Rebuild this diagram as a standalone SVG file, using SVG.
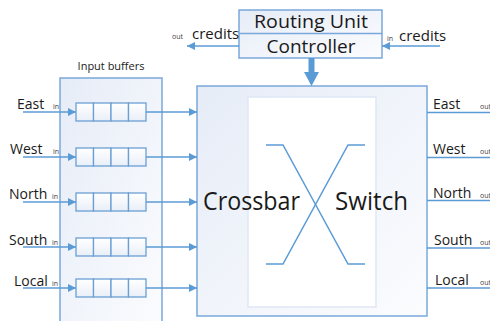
<svg xmlns="http://www.w3.org/2000/svg" width="490" height="321" viewBox="0 0 490 321">
  <defs>
    <linearGradient id="panelFill" x1="0" y1="0" x2="1" y2="1">
      <stop offset="0" stop-color="#e6ecf7"/>
      <stop offset="1" stop-color="#fbfcfe"/>
    </linearGradient>
    <linearGradient id="cellFill" x1="0" y1="0" x2="0" y2="1">
      <stop offset="0" stop-color="#ffffff"/>
      <stop offset="1" stop-color="#e9eff8"/>
    </linearGradient>
    <marker id="tip" viewBox="0 0 8 8" refX="8" refY="4" markerWidth="8" markerHeight="8" markerUnits="userSpaceOnUse" orient="auto">
      <path d="M0,0 L8,4 L0,8 Z" fill="#5b9bd5"/>
    </marker>
  </defs>
  <style>
    text { font-family: "Open Sans", "Liberation Sans", sans-serif; fill: #1a1a1a; }
    .panel { fill: url(#panelFill); stroke: #7aa8da; stroke-width: 1.5; }
    .cell { fill: url(#cellFill); stroke: #6b9fd3; stroke-width: 1.3; }
    .wire { stroke: #5b9bd5; stroke-width: 1.5; fill: none; }
    .arrow { stroke: #5b9bd5; stroke-width: 1.5; fill: none; marker-end: url(#tip); }
    .port { font-size: 14px; }
    .sub { font-size: 7px; fill: #444; }
    .credits { font-size: 15px; }
  </style>

  <!-- Input buffers panel -->
  <g id="input-buffers">
    <rect class="panel" x="60" y="78" width="102" height="250"/>
    <text x="111" y="70" font-size="11" text-anchor="middle">Input buffers</text>
  </g>

  <!-- Crossbar switch -->
  <g id="crossbar">
    <rect class="panel" x="197" y="86" width="230" height="230"/>
    <rect x="248" y="97" width="128" height="210" fill="#ffffff" stroke="#dfe7f3" stroke-width="1.5"/>
    <path class="wire" d="M266,145 H283 L348,264 H365" stroke-width="2"/>
    <path class="wire" d="M365,145 H348 L283,264 H266" stroke-width="2"/>
    <text x="203" y="210" font-size="25" textLength="97" lengthAdjust="spacingAndGlyphs">Crossbar</text>
    <text x="335" y="210" font-size="25" textLength="73" lengthAdjust="spacingAndGlyphs">Switch</text>
  </g>

  <!-- Routing unit controller -->
  <g id="controller">
    <rect x="239" y="10" width="143" height="48" fill="url(#panelFill)" stroke="#7aa8da" stroke-width="1.5"/>
    <line x1="239" y1="33.5" x2="382" y2="33.5" stroke="#7aa8da" stroke-width="1.3"/>
    <text x="311" y="28" font-size="18" text-anchor="middle" textLength="114" lengthAdjust="spacingAndGlyphs">Routing Unit</text>
    <text x="311" y="53" font-size="18" text-anchor="middle" textLength="89" lengthAdjust="spacingAndGlyphs">Controller</text>
  </g>

  <!-- Buffer queues -->
  <g id="queue-east">
    <rect class="cell" x="76" y="103" width="17.5" height="18"/>
    <rect class="cell" x="93.5" y="103" width="17.5" height="18"/>
    <rect class="cell" x="111" y="103" width="17.5" height="18"/>
    <rect class="cell" x="128.5" y="103" width="17.5" height="18"/>
  </g>
  <g id="queue-west">
    <rect class="cell" x="76" y="148" width="17.5" height="18"/>
    <rect class="cell" x="93.5" y="148" width="17.5" height="18"/>
    <rect class="cell" x="111" y="148" width="17.5" height="18"/>
    <rect class="cell" x="128.5" y="148" width="17.5" height="18"/>
  </g>
  <g id="queue-north">
    <rect class="cell" x="76" y="193" width="17.5" height="18"/>
    <rect class="cell" x="93.5" y="193" width="17.5" height="18"/>
    <rect class="cell" x="111" y="193" width="17.5" height="18"/>
    <rect class="cell" x="128.5" y="193" width="17.5" height="18"/>
  </g>
  <g id="queue-south">
    <rect class="cell" x="76" y="238" width="17.5" height="18"/>
    <rect class="cell" x="93.5" y="238" width="17.5" height="18"/>
    <rect class="cell" x="111" y="238" width="17.5" height="18"/>
    <rect class="cell" x="128.5" y="238" width="17.5" height="18"/>
  </g>
  <g id="queue-local">
    <rect class="cell" x="76" y="279" width="17.5" height="18"/>
    <rect class="cell" x="93.5" y="279" width="17.5" height="18"/>
    <rect class="cell" x="111" y="279" width="17.5" height="18"/>
    <rect class="cell" x="128.5" y="279" width="17.5" height="18"/>
  </g>

  <!-- Port labels -->
  <g id="labels-in">
    <text class="port" x="17" y="109">East</text><text class="sub" x="53" y="109">in</text>
    <text class="port" x="10" y="154">West</text><text class="sub" x="53" y="154">in</text>
    <text class="port" x="9" y="199">North</text><text class="sub" x="52" y="199">in</text>
    <text class="port" x="9" y="245">South</text><text class="sub" x="52" y="245">in</text>
    <text class="port" x="14" y="286">Local</text><text class="sub" x="52" y="286">in</text>
  </g>
  <g id="labels-out">
    <text class="port" x="433" y="109">East</text><text class="sub" x="480" y="109">out</text>
    <text class="port" x="433" y="154">West</text><text class="sub" x="480" y="154">out</text>
    <text class="port" x="433" y="198">North</text><text class="sub" x="480" y="198">out</text>
    <text class="port" x="434" y="245">South</text><text class="sub" x="480" y="245">out</text>
    <text class="port" x="435" y="285">Local</text><text class="sub" x="480" y="285">out</text>
  </g>
  <g id="labels-credits">
    <text class="sub" x="172" y="39" font-size="8">out</text>
    <text class="credits" x="192" y="39">credits</text>
    <text class="sub" x="387" y="41" font-size="8">in</text>
    <text class="credits" x="399" y="41">credits</text>
  </g>

  <!-- Connectors -->
  <g id="connectors">
    <!-- inputs into queues -->
    <path class="arrow" d="M23,112 H76"/>
    <path class="arrow" d="M23,157 H76"/>
    <path class="arrow" d="M23,202 H76"/>
    <path class="arrow" d="M23,247 H76"/>
    <path class="arrow" d="M23,288 H76"/>
    <!-- queues into crossbar -->
    <path class="arrow" d="M146,112 H197"/>
    <path class="arrow" d="M146,157 H197"/>
    <path class="arrow" d="M146,202 H197"/>
    <path class="arrow" d="M146,247 H197"/>
    <path class="arrow" d="M146,288 H197"/>
    <!-- crossbar outputs -->
    <path class="wire" d="M427,112.5 H490"/>
    <path class="wire" d="M427,157.5 H490"/>
    <path class="wire" d="M427,200.5 H490"/>
    <path class="wire" d="M427,248 H490"/>
    <path class="wire" d="M427,288 H490"/>
    <!-- credit flows -->
    <path class="arrow" d="M239,46 H187"/>
    <path class="arrow" d="M440,46 H382"/>
    <!-- controller drives crossbar -->
    <path d="M308.5,58 H314.5 V72 H319 L311.5,86 L304,72 H308.5 Z" fill="#5b9bd5"/>
  </g>
</svg>
